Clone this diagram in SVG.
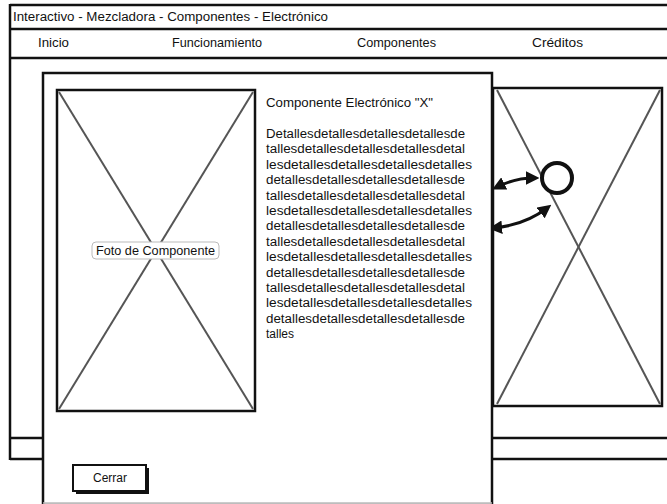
<svg xmlns="http://www.w3.org/2000/svg" width="667" height="504" viewBox="0 0 667 504">
<defs>
<style>
.t{font-family:"Liberation Sans",Arial,sans-serif;font-size:12px;fill:#111}
.ln{stroke:#111;stroke-width:2.5;fill:none}
.box{stroke:#111;stroke-width:2.5;fill:#fff}
.diag{stroke:#555;stroke-width:2;fill:none}
.arr{stroke:#111;stroke-width:3;fill:none;marker-start:url(#ah);marker-end:url(#ah)}
</style>
<marker id="ah" viewBox="0 0 10 10" refX="6" refY="5" markerWidth="4.5" markerHeight="4.5" orient="auto-start-reverse">
<path d="M0,0 L10,5 L0,10 z" fill="#111"/>
</marker>
</defs>
<rect width="667" height="504" fill="#fff"/>
<g id="window">
<line class="ln" x1="10" y1="5" x2="667" y2="5"/>
<line class="ln" x1="10" y1="29" x2="667" y2="29"/>
<line class="ln" x1="10" y1="58" x2="667" y2="58"/>
<line class="ln" x1="10" y1="4" x2="10" y2="460"/>
<line class="ln" x1="10" y1="438" x2="667" y2="438"/>
<line class="ln" x1="10" y1="459" x2="667" y2="459"/>
<text class="t" x="13" y="21" textLength="315" lengthAdjust="spacingAndGlyphs">Interactivo - Mezcladora - Componentes - Electrónico</text>
<text class="t" x="38" y="47" textLength="31" lengthAdjust="spacingAndGlyphs">Inicio</text>
<text class="t" x="172" y="47" textLength="90" lengthAdjust="spacingAndGlyphs">Funcionamiento</text>
<text class="t" x="357" y="47" textLength="79" lengthAdjust="spacingAndGlyphs">Componentes</text>
<text class="t" x="532" y="47" textLength="51" lengthAdjust="spacingAndGlyphs">Créditos</text>
</g>
<g id="bg-image">
<rect class="box" x="493" y="88" width="169" height="318"/>
<line class="diag" x1="497" y1="90" x2="660" y2="404"/>
<line class="diag" x1="660" y1="90" x2="497" y2="404"/>
</g>
<g id="hotspot">
<circle cx="557" cy="178" r="15" fill="#fff" stroke="#111" stroke-width="4"/>
</g>
<g id="connectors">
<path class="arr" d="M497,187 Q515,178 534,178"/>
<path class="arr" d="M494,228 Q525,225 547,208"/>
</g>
<g id="dialog">
<rect x="43" y="73" width="449" height="432" fill="#fff" stroke="#111" stroke-width="2.5"/>
<line x1="43" y1="503" x2="492" y2="503" stroke="#bbb" stroke-width="1.5"/>
</g>
<g id="photo">
<rect class="box" x="57" y="90" width="198" height="321"/>
<line class="diag" x1="59" y1="92" x2="253" y2="409"/>
<line class="diag" x1="253" y1="92" x2="59" y2="409"/>
<rect x="92" y="242" width="127" height="17" rx="4" fill="#fff" stroke="#bbb" stroke-width="1"/>
<text class="t" x="96" y="255" textLength="119" lengthAdjust="spacingAndGlyphs">Foto de Componente</text>
</g>
<g id="details">
<text class="t" x="266" y="107" textLength="167" lengthAdjust="spacingAndGlyphs">Componente Electrónico "X"</text>
<text class="t" x="266" y="138" textLength="199" lengthAdjust="spacingAndGlyphs">Detallesdetallesdetallesdetallesde</text>
<text class="t" x="266" y="153.4" textLength="199" lengthAdjust="spacingAndGlyphs">tallesdetallesdetallesdetallesdetal</text>
<text class="t" x="266" y="168.8" textLength="206" lengthAdjust="spacingAndGlyphs">lesdetallesdetallesdetallesdetalles</text>
<text class="t" x="266" y="184.2" textLength="199" lengthAdjust="spacingAndGlyphs">detallesdetallesdetallesdetallesde</text>
<text class="t" x="266" y="199.6" textLength="199" lengthAdjust="spacingAndGlyphs">tallesdetallesdetallesdetallesdetal</text>
<text class="t" x="266" y="215" textLength="206" lengthAdjust="spacingAndGlyphs">lesdetallesdetallesdetallesdetalles</text>
<text class="t" x="266" y="230.4" textLength="199" lengthAdjust="spacingAndGlyphs">detallesdetallesdetallesdetallesde</text>
<text class="t" x="266" y="245.8" textLength="199" lengthAdjust="spacingAndGlyphs">tallesdetallesdetallesdetallesdetal</text>
<text class="t" x="266" y="261.2" textLength="206" lengthAdjust="spacingAndGlyphs">lesdetallesdetallesdetallesdetalles</text>
<text class="t" x="266" y="276.6" textLength="199" lengthAdjust="spacingAndGlyphs">detallesdetallesdetallesdetallesde</text>
<text class="t" x="266" y="292" textLength="199" lengthAdjust="spacingAndGlyphs">tallesdetallesdetallesdetallesdetal</text>
<text class="t" x="266" y="307.4" textLength="206" lengthAdjust="spacingAndGlyphs">lesdetallesdetallesdetallesdetalles</text>
<text class="t" x="266" y="322.8" textLength="199" lengthAdjust="spacingAndGlyphs">detallesdetallesdetallesdetallesde</text>
<text class="t" x="266" y="338.2">talles</text>
</g>
<g id="cerrar">
<rect x="76" y="468" width="73" height="26" fill="#111"/>
<rect x="73" y="465" width="73" height="26" fill="#fff" stroke="#111" stroke-width="2"/>
<text class="t" x="110" y="482" text-anchor="middle">Cerrar</text>
</g>
</svg>
